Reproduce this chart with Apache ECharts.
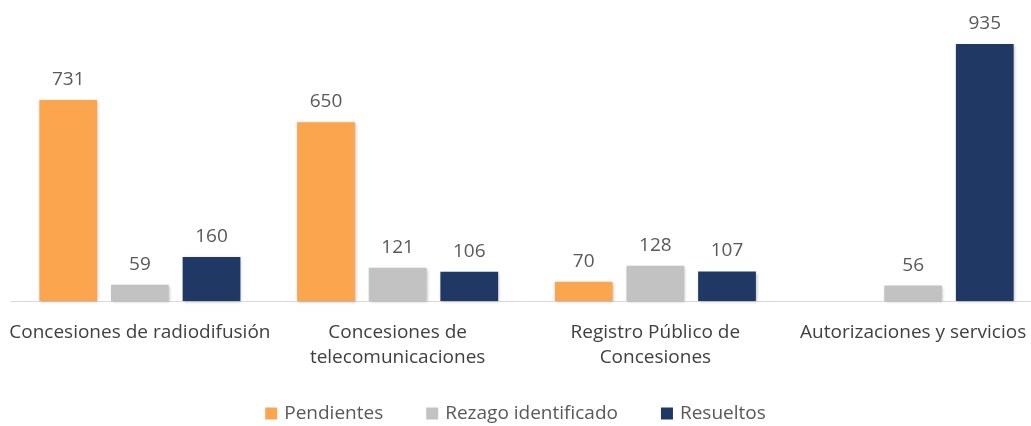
<!DOCTYPE html>
<html>
<head>
<meta charset="utf-8">
<script src="https://cdn.jsdelivr.net/npm/echarts@6/dist/echarts.min.js"></script>
<style>
html,body{margin:0;padding:0;background:#fff;}
#chart{width:1031px;height:426px;}
</style>
</head>
<body>
<div id="chart"></div>
<script>
var categories = ['Concesiones de radiodifusión', 'Concesiones de\ntelecomunicaciones', 'Registro Público de\nConcesiones', 'Autorizaciones y servicios'];
var pendientes = [731, 650, 70, null];
var rezago = [59, 121, 128, 56];
var resueltos = [160, 106, 107, 935];
var seriesNames = ['Pendientes', 'Rezago identificado', 'Resueltos'];

var fontFam = '"Open Sans", "Noto Sans", sans-serif';
var txtColor = '#595959';

var chart = echarts.init(document.getElementById('chart'));

function barSeries(name, data, color) {
	return {
		name: name,
		type: 'bar',
		data: data,
		barGap: '24%',
		barCategoryGap: '22%',
		itemStyle: {
			color: color,
			shadowColor: 'rgba(0,0,0,0.25)',
			shadowBlur: 3,
			shadowOffsetX: 1,
			shadowOffsetY: 1
		},
		label: {
			show: true,
			position: 'top',
			distance: 11,
			color: txtColor,
			fontSize: 19,
			fontFamily: fontFam
		}
	};
}

var option = {
	animation: false,
	color: ['#FBA54F', '#C2C2C2', '#203864'],
	grid: {
		left: 11,
		top: 26,
		width: 1031,
		bottom: 125,
		outerBoundsMode: 'none',
		containLabel: false
	},
	legend: {
		bottom: -2,
		left: 'center',
		itemWidth: 12,
		itemHeight: 12,
		itemGap: 43,
		icon: 'rect',
		textStyle: {
			color: txtColor,
			fontSize: 19,
			fontFamily: fontFam,
			padding: [0, 0, 0, 2]
		},
		data: seriesNames
	},
	xAxis: {
		type: 'category',
		data: categories,
		axisLine: {
			show: true,
			lineStyle: { color: '#D9D9D9', width: 1 }
		},
		axisTick: { show: false },
		axisLabel: {
			color: '#404040',
			fontSize: 19,
			fontFamily: fontFam,
			lineHeight: 25,
			margin: 19,
			interval: 0
		}
	},
	yAxis: {
		type: 'value',
		min: 0,
		max: 1000,
		show: false
	},
	series: [
		barSeries(seriesNames[0], pendientes, '#FBA54F'),
		barSeries(seriesNames[1], rezago, '#C2C2C2'),
		barSeries(seriesNames[2], resueltos, '#203864')
	]
};

chart.setOption(option);
</script>
</body>
</html>
